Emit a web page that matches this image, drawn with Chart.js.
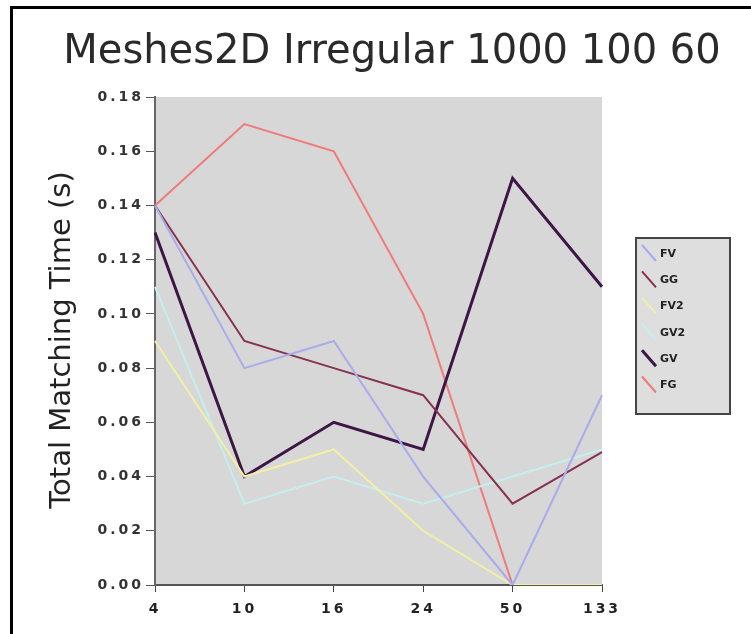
<!DOCTYPE html>
<html>
<head>
<meta charset="utf-8">
<script src="https://cdn.jsdelivr.net/npm/chart.js@4.4.1/dist/chart.umd.min.js"></script>
<style>
  html, body { margin: 0; padding: 0; background: #fff; overflow: hidden; }
  #wrap { position: relative; width: 751px; height: 634px; }
  #frame { position: absolute; left: 10px; top: 6px; width: 800px; height: 700px;
           border-left: 3px solid #000; border-top: 3px solid #000; pointer-events: none; }
  canvas { position: absolute; left: 0; top: 0; }
</style>
</head>
<body>
<div id="wrap">
  <canvas id="c" width="751" height="634"></canvas>
  <div id="frame"></div>
</div>
<script>
// Problem sizes on the x axis
const categories = ['4', '10', '16', '24', '50', '133'];

// Total matching time (s) per method
const FV  = [0.14, 0.08, 0.09, 0.04, 0.00, 0.07];
const GG  = [0.14, 0.09, 0.08, 0.07, 0.03, 0.049];
const FV2 = [0.09, 0.04, 0.05, 0.02, 0.00, 0.00];
const GV2 = [0.11, 0.03, 0.04, 0.03, 0.04, 0.05];
const GV  = [0.13, 0.04, 0.06, 0.05, 0.15, 0.11];
const FG  = [0.14, 0.17, 0.16, 0.10, 0.00, 0.00];

const seriesNames = ['FV', 'GG', 'FV2', 'GV2', 'GV', 'FG'];
const seriesData = [FV, GG, FV2, GV2, GV, FG];
const seriesColors = ['#a9acec', '#87304f', '#f3efa6', '#c6eeee', '#3e1646', '#f07a7a'];
const seriesWidths = [2, 2, 2, 2, 3, 2];

const chartTitle = 'Meshes2D Irregular 1000 100 60';
const yTitle = 'Total Matching Time (s)';

// Grey plot background; wide letter spacing for the axis numbers
const plotBackground = {
  id: 'plotBackground',
  beforeDraw(chart) {
    const { ctx, chartArea: a } = chart;
    ctx.save();
    ctx.fillStyle = '#d7d7d7';
    ctx.fillRect(a.left, a.top, a.right - a.left, a.bottom - a.top);
    ctx.restore();
    ctx.letterSpacing = '3px';
  },
  beforeDatasetsDraw(chart) {
    chart.ctx.letterSpacing = '0px';
  }
};

// Titles and boxed legend with slanted line samples
const decorations = {
  id: 'decorations',
  afterDraw(chart) {
    const ctx = chart.ctx;
    ctx.save();
    ctx.letterSpacing = '0px';
    ctx.fillStyle = '#2a2a2a';
    ctx.font = '40px "DejaVu Sans"';
    ctx.textAlign = 'center';
    ctx.textBaseline = 'middle';
    ctx.fillText(chartTitle, 392, 53);

    ctx.save();
    ctx.translate(62, 340);
    ctx.rotate(-Math.PI / 2);
    ctx.font = '29px "DejaVu Sans"';
    ctx.fillStyle = '#222';
    ctx.fillText(yTitle, 0, 0);
    ctx.restore();

    const bx = 636, by = 238, bw = 94, bh = 176;
    ctx.fillStyle = '#dedede';
    ctx.fillRect(bx, by, bw, bh);
    ctx.strokeStyle = '#444';
    ctx.lineWidth = 2;
    ctx.strokeRect(bx, by, bw, bh);

    ctx.font = 'bold 11px "DejaVu Sans"';
    ctx.textAlign = 'left';
    chart.data.datasets.forEach((ds, i) => {
      const y = 253 + i * 26.3;
      ctx.strokeStyle = ds.borderColor;
      ctx.lineWidth = ds.borderWidth;
      ctx.beginPath();
      ctx.moveTo(642, y - 8);
      ctx.lineTo(656, y + 8);
      ctx.stroke();
      ctx.fillStyle = '#222';
      ctx.fillText(ds.label, 660, y + 1);
    });
    ctx.restore();
  }
};

new Chart(document.getElementById('c'), {
  type: 'line',
  data: {
    labels: categories,
    datasets: seriesNames.map((name, i) => ({
      label: name,
      data: seriesData[i],
      borderColor: seriesColors[i],
      backgroundColor: seriesColors[i],
      borderWidth: seriesWidths[i],
      pointRadius: 0,
      tension: 0,
      fill: false
    }))
  },
  options: {
    responsive: false,
    animation: false,
    devicePixelRatio: 1,
    layout: { padding: { left: 0, right: 149, top: 97, bottom: 0 } },
    plugins: {
      legend: { display: false },
      title: { display: false },
      tooltip: { enabled: false }
    },
    scales: {
      x: {
        offset: false,
        grid: { display: true, drawOnChartArea: false, tickLength: 7, color: '#444' },
        border: { color: '#555', width: 2 },
        ticks: { color: '#222', font: { family: 'DejaVu Sans', size: 14, weight: 'bold' }, padding: 9, maxRotation: 0 },
        afterFit(scale) { scale.height = 49; }
      },
      y: {
        min: 0,
        max: 0.18,
        grid: { display: true, drawOnChartArea: false, tickLength: 9, color: '#555' },
        border: { color: '#666', width: 2 },
        ticks: {
          stepSize: 0.02,
          color: '#333',
          font: { family: 'DejaVu Sans', size: 14, weight: 'bold' },
          padding: 2,
          callback: v => v.toFixed(2)
        },
        title: { display: false },
        afterFit(scale) { scale.width = 155; }
      }
    }
  },
  plugins: [plotBackground, decorations]
});
</script>
</body>
</html>
